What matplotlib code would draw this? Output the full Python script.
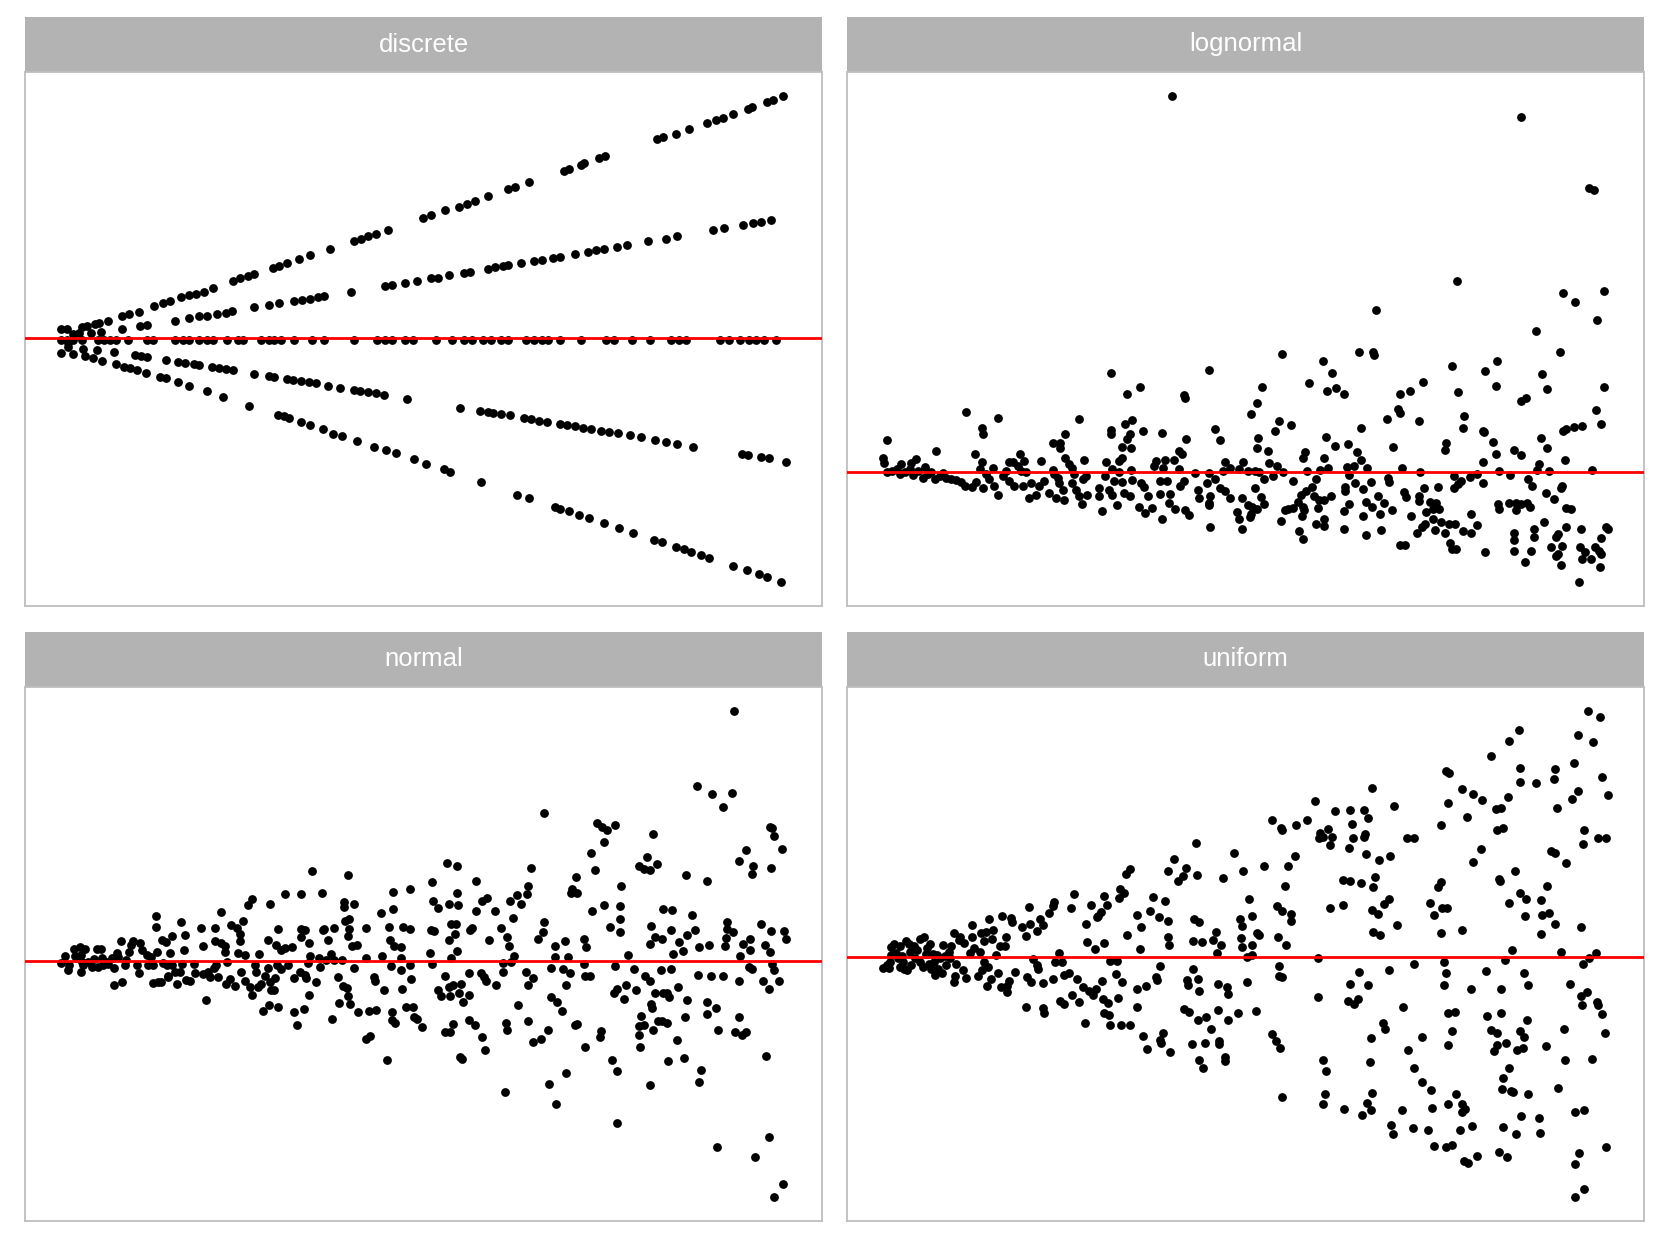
import matplotlib
matplotlib.use("Agg")
import matplotlib.pyplot as plt

# ---------------- data (fitted, residual) ----------------
discrete_up2 = [(7.8,2.5),(9.0,2.5),(11.8,3.0),(12.8,3.2),(14.3,3.7),(15.2,3.9),(16.8,4.6),(19.5,5.9),(21.0,6.2),
    (22.8,6.9),(25.8,8.4),(27.5,9.2),(28.8,9.7),(31.0,10.7),(32.5,11.2),(34.0,11.7),(35.5,12.2),(37.2,13.2),(41.2,14.9),
    (42.5,15.7),(44.0,16.2),(45.2,16.7),(48.8,18.4),(50.0,18.9),(51.5,19.6),(54.0,20.7),(56.0,21.7),(60.0,23.5),(64.5,25.4),
    (66.0,26.0),(67.2,26.7),(68.8,27.4),(71.2,28.5),(78.0,31.5),(79.5,32.2),(82.2,33.5),(85.0,34.5),(86.5,35.2),(88.0,35.9),
    (90.5,37.2),(94.5,39.2),(95.8,39.7),(98.5,40.9),(105.2,43.9),(106.2,44.4),(108.5,45.5),(109.2,45.9),(112.0,47.2),
    (113.3,47.7),(123.3,52.2),(124.5,52.7),(127.0,53.7),(129.5,54.9),(133.0,56.4),(134.8,57.2),(136.2,57.9),(138.0,58.9),
    (141.0,60.2),(141.8,60.7),(144.7,62.0),(145.8,62.5),(147.8,63.5)]
discrete_up1 = [(10.0,1.1),(11.2,1.4),(13.5,1.4),(15.5,1.7),(19.5,2.5),(23.0,3.2),(24.5,3.5),(29.8,4.5),(32.5,5.2),
    (34.5,5.7),(36.0,5.9),(38.0,6.2),(39.8,6.7),(41.0,7.0),(45.2,8.1),(48.0,8.7),(50.0,9.1),(53.0,9.7),(54.5,10.0),
    (56.0,10.3),(57.5,10.7),(58.8,11.0),(64.0,12.1),(70.5,13.7),(72.0,14.0),(74.5,14.5),(76.8,15.1),(79.5,15.7),(80.8,15.9),
    (83.0,16.5),(86.0,17.2),(87.0,17.4),(90.5,18.2),(92.0,18.7),(93.5,18.9),(94.5,19.1),(97.0,19.7),(99.5,20.2),(101.0,20.5),
    (103.2,21.1),(104.5,21.4),(107.5,22.1),(110.0,22.7),(111.5,23.0),(113.0,23.3),(115.5,23.9),(117.5,24.4),(121.5,25.4),
    (125.0,26.1),(127.3,26.7),(134.2,28.4),(136.3,28.9),(140.0,29.7),(142.0,30.1),(143.5,30.5),(145.5,30.9)]
discrete_zero = [(7.8,-0.5),(9.0,-0.5),(10.0,-0.5),(11.8,-0.5),(15.0,-0.5),(16.0,-0.5),(17.2,-0.5),(18.5,-0.5),(20.8,-0.5),
    (24.5,-0.5),(25.5,-0.5),(29.8,-0.5),(31.5,-0.5),(32.5,-0.5),(34.5,-0.5),(36.0,-0.5),(37.2,-0.5),(40.0,-0.5),(42.0,-0.5),
    (43.0,-0.5),(46.5,-0.5),(48.0,-0.5),(49.0,-0.5),(50.5,-0.5),(53.0,-0.5),(56.5,-0.5),(58.8,-0.5),(64.5,-0.5),(69.0,-0.5),
    (70.5,-0.5),(72.0,-0.5),(74.5,-0.5),(76.0,-0.5),(80.5,-0.5),(83.5,-0.5),(86.0,-0.5),(87.5,-0.5),(89.5,-0.5),(91.2,-0.5),
    (93.0,-0.5),(94.5,-0.5),(98.0,-0.5),(99.5,-0.5),(101.0,-0.5),(102.2,-0.5),(104.5,-0.5),(108.5,-0.5),(113.5,-0.5),
    (115.0,-0.5),(118.5,-0.5),(122.0,-0.5),(126.0,-0.5),(127.5,-0.5),(129.0,-0.5),(135.5,-0.5),(137.2,-0.5),(139.5,-0.5),
    (141.2,-0.5),(142.5,-0.5),(144.0,-0.5),(146.5,-0.5)]
discrete_down1 = [(9.2,-1.3),(9.2,-2.3),(12.0,-2.8),(14.8,-3.1),(18.0,-3.6),(22.2,-4.5),(23.2,-4.8),(24.5,-5.1),(28.2,-5.8),
    (30.5,-6.3),(31.8,-6.5),(33.5,-6.9),(34.5,-7.1),(37.0,-7.6),(38.3,-7.9),(39.8,-8.2),(41.2,-8.5),(45.2,-9.5),(48.0,-10.0),
    (49.0,-10.3),(51.5,-10.8),(52.8,-11.1),(54.2,-11.3),(55.8,-11.6),(57.2,-11.9),(59.5,-12.6),(61.8,-13.1),(64.5,-13.6),
    (65.8,-13.8),(67.3,-14.1),(68.8,-14.5),(70.3,-14.9),(74.8,-16.0),(85.2,-18.3),(89.0,-19.2),(90.5,-19.5),(91.5,-19.7),
    (93.0,-20.0),(94.8,-20.3),(97.5,-21.1),(98.8,-21.3),(100.5,-21.8),(102.0,-22.1),(104.5,-22.6),(105.8,-22.8),(107.5,-23.1),
    (109.0,-23.5),(110.5,-23.8),(112.5,-24.3),(114.0,-24.6),(115.8,-25.0),(118.0,-25.5),(120.3,-26.0),(123.0,-26.8),
    (125.0,-27.3),(127.3,-27.8),(130.3,-28.5),(139.8,-30.5),(141.0,-30.8),(143.5,-31.3),(145.0,-31.6),(148.3,-32.5)]
discrete_down2 = [(7.8,-4.0),(10.0,-4.3),(12.5,-4.8),(14.0,-5.3),(15.8,-5.9),(18.5,-6.8),(20.0,-7.5),(21.2,-7.9),(22.5,-8.5),
    (24.2,-9.1),(27.0,-10.1),(28.2,-10.6),(30.5,-11.5),(32.5,-12.5),(36.0,-14.0),(39.2,-15.5),(44.3,-17.8),(49.8,-20.1),
    (51.0,-20.6),(52.0,-21.0),(54.2,-22.0),(56.0,-22.8),(58.5,-24.0),(60.5,-25.1),(62.2,-25.8),(65.2,-27.1),(68.5,-28.5),
    (70.8,-29.5),(72.7,-30.3),(76.2,-31.8),(78.5,-33.0),(82.0,-34.5),(83.2,-35.3),(89.2,-37.8),(96.2,-41.1),(98.5,-42.1),
    (103.5,-44.3),(104.5,-44.8),(106.3,-45.5),(108.2,-46.5),(110.2,-47.3),(113.0,-48.5),(116.0,-49.8),(118.7,-51.1),
    (122.8,-53.0),(124.3,-53.6),(127.0,-54.8),(128.5,-55.5),(130.0,-56.3),(131.8,-57.1),(133.5,-57.8),(138.0,-59.8),
    (140.8,-61.0),(143.2,-62.0),(144.7,-62.8),(147.3,-64.0)]

lognormal_pts = [(98.0,109.7),(79.5,28.9),(109.0,30.0),(84.3,23.0),(88.4,25.0),(101.5,22.5),(102.0,21.8),(35.8,17.7),
    (45.5,15.9),(70.0,15.6),(85.8,15.2),(83.8,14.0),(40.6,12.8),(41.0,11.3),(79.6,12.5),(79.6,11.3),(85.2,11.2),(89.3,12.2),
    (95.0,11.5),(111.0,12.6),(112.5,9.5),(102.2,9.7),(65.6,11.1),(12.2,9.3),(27.0,6.1),(62.0,8.5),(64.3,8.5),(64.3,7.1),
    (84.3,9.8),(83.0,7.3),(85.5,7.1),(100.0,6.3),(101.0,5.5),(38.5,5.3),(52.1,5.4),(65.6,4.3),(71.5,3.6),(78.0,2.9),(83.0,4.3),
    (82.0,3.2),(93.0,3.2),(96.0,3.6),(98.7,3.7),(114.0,3.1),(119.3,3.0),(58.5,3.2),(67.0,2.5),(11.0,4.3),(11.3,2.7),(21.0,4.0),
    (19.5,2.8),(16.5,2.5),(23.5,1.5),(40.7,2.9),(48.8,3.0),(50.0,3.1),(53.5,3.4),(44.2,1.3),(92.5,2.0),(95.3,1.2),(115.5,1.2),
    (113.3,0.5),(105.0,-0.1),(109.2,-0.2),(100.0,1.0),(85.5,0.7),(80.0,1.0),(62.0,0.7),(68.0,1.4),(62.5,-0.5),
    (12.0,0.0),(13.5,0.5),(15.0,1.0),(16.0,-0.5),(17.5,0.2),(19.0,1.0),(20.0,-0.8),(21.5,0.5),(23.0,-1.5),(24.5,-0.5),
    (25.5,0.0),(26.5,-2.0),(28.0,-1.0),(29.0,-0.2),(30.0,-1.5),(31.5,-2.0),(33.0,-2.2),(34.5,-2.8),(35.5,-4.0),(37.8,-4.3),
    (39.0,-2.7),(41.0,-4.5),(40.0,1.0),(42.0,-0.5),(43.0,-2.0),(44.5,-4.0),(45.5,-6.5),(47.0,-1.0),(48.0,0.5),(49.0,-2.5),
    (50.5,-4.0),(51.5,2.0),(52.5,0.5),(54.0,0.0),(53.0,-4.0),(55.0,-7.5),(55.5,-3.0),(57.0,-6.5),(58.0,-4.0),(59.5,-2.5),
    (61.0,-6.0),(63.0,-7.5),(64.0,-3.0),(65.5,-8.0),(65.2,-5.2),(63.5,-1.5),(68.5,-0.5),(68.0,-3.0),(69.0,-5.0),(70.0,-7.0),
    (70.8,-9.2),(71.2,-2.0),(72.5,-6.5),(72.0,-1.2),(76.0,-4.5),(76.0,-7.0),(77.0,-11.3),(77.8,-1.0),(79.0,-5.0),(80.0,-6.5),
    (80.5,-2.5),(81.5,-9.5),(82.8,-2.7),(83.5,-6.0),(85.2,-6.8),(86.0,-2.3),(88.0,-10.0),(88.7,-3.0),(89.5,-4.3),(89.7,-11.8),
    (90.8,-7.0),(91.8,-10.5),(94.5,-2.6),(94.5,-6.2),(95.0,-13.7),(96.5,-2.5),(97.5,-6.3),(97.0,-8.8),(99.0,-10.8),
    (100.5,-4.0),(101.5,-2.5),(102.0,-11.0),(103.0,-12.5),(105.8,-5.2),(106.0,-7.5),(108.5,-3.0),(109.0,-8.8),(109.2,-9.5),
    (109.5,-15.8),(111.0,-2.0),(112.5,-4.5),(114.0,-5.5),(115.5,-7.5),(117.5,-11.5),(118.0,-13.5),(119.0,-16.5),(119.0,-7.5),
    (109.3,-6.8),(82.0,0.0),(118.0,1.0),
    (203.0,103.6),(223.5,82.8),(225.0,82.3),(183.7,55.7),(215.8,52.3),(228.2,53.0),(219.2,49.7),(159.3,47.4),(226.0,44.4),
    (207.7,41.2),(131.0,34.6),(154.4,35.0),(158.6,35.2),(158.8,34.3),(214.9,35.1),(195.8,32.4),(143.5,32.5),(182.2,31.0),
    (146.2,29.1),(192.2,29.7),(209.4,28.7),(125.1,24.9),(139.3,26.0),(173.7,26.4),(228.2,25.0),(211.0,24.2),(144.5,23.6),
    (147.3,24.5),(149.9,23.0),(166.6,23.0),(169.6,23.7),(184.2,23.5),(195.4,25.2),(203.0,20.8),(204.5,21.8),(123.5,20.3),
    (121.8,17.0),(166.7,17.2),(166.0,18.6),(185.9,16.4),(225.7,18.2),(162.8,15.5),(172.2,15.0),(130.2,15.0),(128.9,12.0),
    (133.9,13.8),(154.8,12.8),(185.6,12.9),(227.3,14.0),(215.8,12.0),(216.5,12.7),(219.0,13.3),(221.5,13.6),(191.5,12.2),
    (192.0,11.9),(124.0,10.1),(144.3,10.2),(209.0,9.9),(194.5,9.0),(180.5,8.5),(123.7,7.1),(147.2,7.8),(150.9,8.2),
    (164.5,7.4),(180.3,6.4),(127.0,6.1),(138.0,6.0),(153.7,6.0),(211.0,7.2),(201.1,6.5),(203.0,5.0),(195.5,5.4),(137.3,4.2),
    (143.7,4.3),(154.9,3.6),(191.7,3.0),(127.3,2.7),(129.6,2.0),(208.6,2.5),(216.4,3.6),(152.8,1.9),(150.8,1.5),(145.0,1.2),
    (142.5,0.7),(138.6,0.5),(156.8,1.2),(167.2,1.4),(172.7,0.0),(196.5,0.5),(208.0,0.7),(211.5,0.3),(224.4,0.7),(121.0,0.3),
    (123.0,0.3),(124.3,0.0),(131.3,0.0),(128.5,-1.0),(125.7,-1.8),(134.3,-2.5),(141.2,-2.0),(151.2,-0.8),(153.2,-3.2),
    (157.8,-2.7),(163.0,-1.5),(163.2,-2.7),(182.8,-1.1),(185.0,-2.5),(184.0,-3.3),(183.0,-4.6),(187.8,-1.3),(189.7,-0.5),
    (191.5,-3.0),(199.8,-0.8),(205.1,-2.0),(206.4,-4.0),(215.5,-4.0),(215.0,-4.6),(123.0,-4.5),(140.2,-4.3),(138.3,-5.5),
    (136.8,-6.5),(150.2,-4.3),(150.0,-5.5),(155.5,-4.8),(178.0,-4.2),(174.0,-4.7),(167.8,-5.7),(168.5,-7.3),(160.0,-6.8),
    (172.3,-6.8),(172.5,-8.3),(210.5,-6.0),(213.0,-7.7),(124.8,-7.3),(125.8,-9.2),(121.0,-9.5),(122.0,-10.0),(123.6,-10.7),
    (121.7,-12.0),(121.5,-13.0),(136.0,-8.5),(137.5,-10.0),(137.7,-11.0),(140.8,-7.0),(142.2,-8.0),(143.7,-8.2),(142.0,-10.3),
    (145.7,-7.0),(151.3,-9.2),(149.8,-11.3),(156.5,-8.7),(158.3,-10.2),(160.6,-12.0),(161.7,-9.0),(164.1,-11.0),(175.7,-8.7),
    (177.4,-9.0),(174.6,-11.5),(176.5,-10.7),(178.5,-10.7),(196.0,-9.2),(196.5,-10.8),(199.5,-8.8),(201.7,-8.8),(203.0,-9.2),
    (204.8,-8.8),(205.8,-10.0),(201.5,-11.0),(216.7,-10.3),(218.2,-10.8),(130.7,-14.1),(132.0,-11.0),(133.0,-10.7),
    (134.3,-10.3),(137.1,-12.7),(143.7,-13.5),(141.3,-15.2),(143.7,-15.5),(149.7,-16.6),(155.6,-12.8),(160.8,-16.7),
    (156.5,-18.3),(136.3,-17.0),(137.3,-19.5),(170.0,-12.8),(174.1,-15.2),(173.4,-16.0),(171.7,-17.8),(176.7,-13.5),
    (179.1,-14.5),(177.3,-16.8),(180.3,-17.8),(181.4,-15.2),(183.3,-15.2),(185.5,-17.0),(188.1,-12.0),(189.7,-15.3),
    (188.1,-17.8),(181.6,-20.5),(182.4,-22.3),(183.6,-22.3),(166.5,-21.3),(168.0,-21.3),(192.1,-23.2),(201.0,-17.8),
    (201.1,-19.7),(201.0,-23.0),(204.3,-26.0),(206.9,-16.6),(207.0,-18.8),(206.0,-22.8),(210.1,-14.5),(216.7,-15.8),
    (214.3,-18.0),(213.7,-18.8),(215.5,-21.5),(212.2,-21.7),(214.3,-23.8),(213.5,-24.3),(215.0,-27.0),(221.1,-16.5),
    (220.8,-21.8),(222.2,-23.2),(221.5,-25.2),(224.0,-25.2),(225.4,-21.8),(226.5,-23.0),(227.3,-23.8),(226.8,-27.6),
    (227.3,-19.2),(228.8,-15.8),(229.2,-16.6),(220.5,-31.9)]

normal_pts = [(12.8,1.5),(11.8,-0.6),(13.8,-2.8),(14.0,-1.3),(15.5,3.5),(15.8,1.5),(16.5,0.7),(17.5,3.9),(17.8,1.7),
    (18.0,-0.3),(17.8,-3.3),(19.0,3.5),(18.5,-1.3),(20.0,-0.3),(21.0,-1.8),(21.8,0.4),(22.5,3.5),(23.0,-1.8),(23.8,3.5),
    (24.0,0.7),(24.5,-1.3),(25.5,-0.3),(26.0,-1.0),(27.0,0.7),(27.8,-2.1),(27.8,-7.1),(28.5,2.2),(29.0,1.2),(29.8,5.9),
    (30.0,-6.3),(31.0,-1.3),(31.2,0.2),(32.2,2.5),(32.8,4.7),(33.5,5.7),(34.5,-1.3),(35.2,-3.5),(35.5,5.2),(36.0,3.2),
    (37.5,1.7),(38.0,-1.3),(38.8,1.2),(39.3,-1.3),(39.5,-6.5),(40.2,13.0),(40.2,10.0),(40.7,2.5),(41.0,-6.3),(41.8,-6.3),
    (42.0,6.2),(42.5,-0.5),(43.2,5.4),(43.5,-1.1),(43.8,-4.3),(44.0,-4.8),(44.5,2.2),(45.2,7.2),(45.0,-1.1),(46.0,-3.1),
    (46.5,-6.8),(47.5,-3.1),(47.8,11.4),(48.0,-0.8),(48.8,3.2),(49.0,7.5),(49.2,-5.5),(50.5,-6.0),(51.8,-0.8),(52.0,-3.5),
    (54.0,9.7),(54.5,4.2),(54.5,-3.8),(55.3,-11.5),(56.0,-3.3),(56.5,-4.8),(57.8,-2.1),(58.0,9.7),(58.0,5.7),(58.5,-1.3),
    (59.0,-4.8),(59.8,14.2),(60.0,5.2),(61.0,4.2),(61.2,2.7),(61.3,-6.8),(61.8,-0.3),(62.5,-5.3),(63.0,10.5),(64.0,-7.3),
    (64.8,9.7),(65.0,2.2),(65.5,7.7),(65.7,5.9),(65.8,-3.3),(66.5,11.5),(67.0,1.7),(67.1,-5.8),(68.0,16.2),(68.5,-7.5),
    (69.3,18.0),(69.3,-10.0),(70.0,-1.3),(70.5,-3.3),(71.0,-7.5),(71.2,1.9),(72.0,-6.8),(72.6,-14.6),(73.0,-4.3),(74.0,6.2),
    (74.0,-2.1),(74.2,-12.8),(74.5,16.5),(74.5,-6.1),(75.0,-8.5),(75.8,-8.5),(76.2,-5.1),(76.5,4.7),(76.8,-1.3),(77.0,9.3),
    (77.0,-13.5),(77.8,3.2),(78.0,-2.5),(79.0,19.5),(79.0,3.7),(80.0,-1.3),(81.2,3.9),(81.8,-5.1),(81.8,-15.0),(82.8,-18.8),
    (83.5,-3.3),(83.8,19.5),(84.0,9.2),(84.0,6.9),(84.8,-14.1),(85.2,-4.1),(85.2,9.0),(85.5,-5.1),(86.0,-0.6),(86.2,5.2),
    (86.2,-9.8),(86.5,1.4),(87.3,26.3),(88.5,-6.3),(89.3,0.9),(89.8,-1.8),(90.3,19.9),(90.5,8.9),(91.0,9.2),(91.5,0.2),
    (92.2,6.2),(93.0,1.9),(93.2,-17.0),(94.0,9.7),(94.0,0.2),(95.2,-4.8),(95.3,-12.3),(96.2,0.2),(96.5,-7.3),(97.0,17.2),
    (97.0,15.7),(97.2,11.7),(97.8,-7.8),(98.0,25.0),(98.0,-10.1),(98.2,7.2),(98.5,12.2),(98.5,9.2),(98.8,-12.5),(99.2,4.2),
    (99.8,16.7),(100.0,-2.0),(100.8,4.5),(101.0,-15.0),(103.5,9.7),(103.5,0.7),(103.5,-22.8),(104.5,-14.6),(104.8,-22.0),
    (106.0,-4.8),(106.2,-5.8),(106.5,-14.3),(108.0,13.9),(108.2,1.4),(108.8,-8.5),(109.8,-29.0),(110.5,9.9),(110.8,6.2),
    (111.0,-1.5),(111.2,-14.8),(111.2,-17.3),(111.5,20.2),(111.5,15.0),(112.0,4.2),(112.2,-18.1),(114.0,3.9),(114.0,0.7),
    (114.0,-2.8),(114.2,-8.3),(114.5,9.9),(115.5,-13.5),(116.8,20.9),(116.8,9.4),(116.8,-1.3),(117.0,-5.3),(117.5,-13.5),
    (117.8,-16.3),(118.8,-17.0),
    (214.3,72.7),(203.2,51.0),(207.5,48.6),(213.5,49.0),(210.8,44.7),(157.0,43.0),(173.0,40.2),(174.5,39.0),(176.0,38.0),
    (178.5,39.7),(190.0,37.0),(175.0,34.7),(225.0,38.9),(225.8,38.7),(226.2,36.4),(228.8,32.7),(217.7,32.4),(171.2,31.5),
    (128.0,28.5),(131.0,27.5),(185.5,27.5),(188.0,30.2),(189.0,26.5),(187.2,26.7),(191.2,28.2),(153.0,27.0),(172.4,26.5),
    (215.8,29.0),(220.0,27.5),(219.7,25.2),(225.5,27.0),(199.7,25.0),(123.3,22.9),(136.5,23.2),(206.0,23.2),(166.6,24.3),
    (152.2,21.7),(180.2,21.7),(165.5,21.0),(165.3,19.7),(167.0,19.7),(149.0,19.3),(151.8,19.4),(131.0,19.9),(123.8,17.5),
    (125.2,15.5),(128.4,16.7),(131.2,16.2),(140.0,18.3),(138.5,17.5),(146.8,17.4),(150.0,16.6),(175.0,16.2),(180.0,16.0),
    (136.6,14.4),(142.2,14.4),(192.8,15.0),(195.5,14.7),(171.4,14.4),(201.5,13.5),(147.7,12.4),(180.0,12.2),(157.0,11.4),
    (222.3,10.7),(212.0,11.2),(189.2,10.2),(177.0,9.8),(129.2,10.7),(130.7,10.7),(135.5,9.5),(134.8,9.0),(144.2,9.5),
    (123.0,9.0),(124.0,8.7),(180.0,8.3),(156.8,8.4),(202.6,9.0),(195.3,8.9),(212.0,9.2),(225.5,8.7),(229.2,8.6),(130.2,7.9),
    (145.8,6.9),(190.5,6.9),(192.5,6.5),(169.0,6.3),(155.2,6.4),(163.5,5.8),(229.8,6.5),(219.0,6.5),(211.7,6.6),(213.9,8.4),
    (128.6,6.0),(140.5,6.0),(197.7,5.6),(200.2,7.6),(188.8,4.9),(146.5,4.4),(160.3,4.2),(169.7,4.0),(211.5,4.2),(206.8,4.7),
    (203.8,3.9),(217.0,5.0),(223.5,4.7),(130.8,2.9),(122.8,2.4),(199.0,2.9),(195.8,1.9),(219.0,3.1),(225.2,2.5),(182.2,1.7),
    (148.0,1.4),(160.5,1.2),(164.2,1.2),(129.2,0.9),(216.0,1.4),(147.0,-0.3),(144.8,-0.5),(123.5,-0.8),(169.2,-0.8),
    (225.8,-0.8),(178.5,-1.5),(159.2,-2.1),(162.8,-2.5),(184.2,-2.3),(192.2,-2.8),(195.2,-2.4),(218.8,-1.8),(219.7,-2.5),
    (226.2,-2.8),(144.8,-3.1),(151.5,-3.1),(164.8,-3.6),(134.5,-3.5),(138.0,-3.6),(127.3,-4.3),(169.5,-4.3),(171.0,-4.3),
    (187.5,-4.3),(203.5,-4.1),(207.3,-4.3),(211.0,-4.5),(139.0,-4.6),(153.8,-5.1),(139.5,-5.8),(189.0,-5.8),(215.8,-5.8),
    (223.0,-6.0),(227.8,-5.8),(132.0,-6.8),(129.7,-7.1),(128.5,-7.6),(142.5,-7.1),(152.2,-7.1),(163.8,-7.1),(181.8,-7.1),
    (179.0,-8.1),(197.5,-7.5),(224.8,-8.3),(125.3,-8.6),(126.2,-10.1),(128.7,-10.3),(131.5,-9.3),(134.5,-10.0),(178.0,-9.3),
    (184.8,-8.5),(181.2,-11.1),(190.5,-9.3),(193.0,-9.3),(194.0,-9.3),(194.8,-10.6),(200.2,-11.3),(132.8,-12.1),(159.2,-10.5),
    (161.0,-12.0),(206.0,-12.1),(189.3,-12.5),(189.5,-13.8),(208.7,-13.8),(206.2,-15.6),(149.2,-13.0),(162.5,-14.7),
    (186.3,-16.0),(215.8,-16.3),(199.4,-16.3),(134.5,-17.3),(136.3,-18.6),(145.5,-18.0),(145.8,-20.2),(152.2,-17.5),
    (120.3,-19.3),(127.2,-20.8),(128.7,-20.8),(129.7,-18.3),(166.5,-18.8),(167.0,-18.3),(185.7,-19.0),(187.2,-18.6),
    (191.3,-17.5),(192.5,-17.5),(194.0,-18.0),(190.0,-20.1),(209.5,-20.1),(214.5,-20.6),(216.5,-21.6),(217.8,-20.8),
    (138.4,-22.2),(139.3,-25.9),(153.8,-23.6),(156.3,-22.8),(158.3,-20.2),(169.5,-25.1),(173.8,-22.2),(174.3,-20.5),
    (185.6,-21.7),(186.0,-25.0),(197.0,-23.1),(131.8,-28.0),(132.5,-28.6),(177.5,-28.9),(179.0,-32.0),(194.5,-29.1),
    (199.3,-28.4),(204.3,-31.8),(203.8,-35.4),(223.8,-27.8),(163.7,-32.6),(158.5,-35.9),(145.2,-38.1),(189.0,-36.3),
    (160.8,-41.8),(179.1,-47.3),(209.2,-54.3),(224.7,-51.3),(220.6,-57.0),(228.9,-65.0),(226.3,-68.7)]

uniform_pts = [(10.8,-3.2),(11.8,-2.4),(12.5,-3.2),(12.8,-1.4),(13.0,2.8),(13.2,0.6),(14.0,3.9),(14.5,1.1),(15.2,-0.4),
    (15.8,-2.9),(16.0,3.1),(16.5,0.4),(16.8,-1.4),(17.2,-3.6),(17.8,4.6),(18.0,-3.9),(18.5,3.8),(19.0,1.6),(19.2,-2.4),
    (20.0,3.1),(20.5,-0.4),(21.0,2.1),(21.8,5.4),(22.0,-1.4),(22.8,-2.9),(23.2,5.9),(23.6,0.9),(24.0,2.6),(24.5,-1.9),
    (24.8,3.9),(25.2,-3.4),(25.8,0.9),(26.2,-1.4),(26.5,-5.1),(27.0,0.6),(27.2,-3.4),(28.0,-0.4),(28.5,-4.6),(28.8,3.6),
    (29.5,0.4),(29.8,-2.4),(30.5,1.6),(31.0,-0.4),(31.2,3.1),(32.0,7.1),(32.0,-7.4),(32.5,-5.4),(32.8,-2.1),(33.5,5.1),
    (34.0,5.8),(34.8,-3.9),(35.0,4.1),(35.8,-6.2),(36.8,1.1),(37.5,9.4),(37.5,5.8),(38.0,2.6),(39.2,-5.4),(39.8,1.4),
    (40.2,6.9),(40.5,-3.9),(41.0,4.6),(41.0,-1.4),(41.8,7.4),(42.2,-8.4),(42.5,-2.9),(42.8,11.1),(43.2,-6.4),(43.6,5.4),
    (44.0,7.9),(44.8,0.6),(45.5,-4.6),(46.0,3.1),(46.2,-8.6),(46.5,12.0),(47.5,3.1),(47.8,5.8),(48.0,-8.4),(48.2,-10.2),
    (48.8,-6.9),(49.2,11.4),(49.5,10.1),(50.5,-4.2),(52.5,8.8),(53.8,6.1),(54.0,-5.9),(53.7,-14.4),(54.8,14.6),(55.0,9.6),
    (55.3,-7.4),(56.0,-0.6),(57.0,7.6),(57.2,-2.4),(57.5,-3.4),(58.0,11.1),(58.8,9.3),(59.0,-7.6),(58.8,-14.7),(59.2,-16.4),
    (60.7,12.8),(62.0,14.8),(62.2,16.1),(62.0,-6.4),(62.5,-1.4),(63.8,1.1),(64.0,-12.9),(64.5,-1.4),(65.2,-13.7),(65.2,-5.2),
    (66.8,-4.7),(67.4,14.3),(67.6,-11.1),(68.2,18.3),(69.3,-6.4),(69.8,-13.1),(71.0,-8.6),(71.7,-19.1),(72.0,9.6),(72.2,4.3),
    (72.7,-9.9),(73.5,15.1),(74.0,-10.9),(74.5,2.4),(74.8,-9.4),(75.2,11.6),(75.5,11.9),(76.5,13.1),(76.8,-6.9),(77.0,-12.2),
    (77.2,17.9),(77.2,4.1),(77.2,-16.2),(78.2,15.3),(78.5,-13.4),(78.8,-16.9),(79.0,-1.1),(79.0,-19.9),(80.8,-4.9),
    (81.2,-1.1),(81.5,-11.9),(81.8,17.3),(82.0,19.8),(82.5,-19.9),(82.8,-7.4),(83.2,18.6),(84.0,24.3),(84.2,6.4),(85.0,25.8),
    (85.0,-19.9),(87.2,-14.4),(87.3,12.4),(87.3,-9.4),(88.0,2.4),(88.5,8.8),(89.0,-23.1),(90.0,-8.4),(90.2,-26.7),(91.2,13.4),
    (92.0,17.6),(92.8,-5.9),(93.3,-6.6),(94.0,11.6),(94.2,-2.6),(94.3,-24.1),(95.0,-22.1),(94.5,-24.9),(95.8,16.4),(96.5,10.4),
    (96.5,5.8),(97.0,3.6),(97.2,-27.7),(98.5,28.6),(99.5,22.3),(96.6,25.0),(101.0,23.6),(102.0,25.9),(101.5,-15.2),
    (102.2,-6.6),(102.5,-8.2),(103.0,-15.9),(103.8,-25.4),(104.0,4.8),(104.2,-3.4),(104.5,11.1),(105.0,33.1),(105.3,23.8),
    (105.5,-6.4),(105.5,-18.2),(106.0,10.3),(106.0,-9.9),(106.0,-29.9),(106.8,4.4),(107.2,-32.2),(107.8,-24.9),(108.0,-17.4),
    (109.5,-20.9),(110.0,4.9),(111.0,7.3),(111.2,1.3),(111.5,-7.7),(111.5,-15.4),(111.8,-24.4),(112.0,-25.4),(112.5,3.6),
    (113.2,23.1),(113.8,-29.2),(113.8,-30.2),(114.3,-8.7),(114.5,-10.7),(114.5,-18.2),(116.3,30.3),(117.5,-16.4),(118.2,11.1),
    (118.5,5.6),(118.8,9.1),(118.8,2.8),(119.2,25.1),
    (223.0,71.6),(226.7,69.9),(220.0,64.6),(224.5,62.6),(202.2,66.2),(199.3,62.9),(193.7,58.7),(218.7,56.4),(213.2,54.8),
    (202.7,55.1),(180.2,54.1),(181.2,53.6),(227.3,52.4),(202.5,51.1),(207.5,50.8),(212.7,51.8),(220.0,48.3),(229.0,47.3),
    (218.3,46.0),(185.0,48.9),(188.5,47.4),(191.1,45.9),(199.0,46.6),(180.8,45.0),(158.0,49.3),(140.8,45.5),(164.6,43.9),
    (146.9,42.5),(151.3,42.8),(155.6,42.7),(195.2,43.2),(196.7,43.3),(213.7,43.3),(186.5,40.8),(156.7,40.4),(128.0,39.9),
    (135.2,38.4),(138.5,40.0),(130.6,37.6),(130.8,37.1),(144.8,37.2),(142.2,36.1),(142.0,34.8),(143.2,35.1),(145.8,35.1),
    (152.0,38.8),(152.2,34.6),(155.8,35.8),(155.5,35.1),(178.7,38.4),(195.5,36.9),(197.3,37.5),(221.7,37.1),(168.5,34.6),
    (170.7,34.6),(226.0,34.8),(228.5,34.6),(221.5,32.8),(145.4,32.7),(151.0,31.7),(156.2,30.1),(160.0,28.3),(163.3,29.3),
    (134.8,29.4),(125.5,26.6),(132.8,26.6),(188.5,27.6),(190.8,31.6),(212.0,30.9),(213.0,30.4),(216.3,27.3),(201.2,25.0),
    (178.8,21.9),(178.0,20.4),(196.3,22.7),(196.5,22.1),(149.2,22.4),(151.4,22.3),(154.7,21.5),(158.8,23.2),(158.2,20.3),
    (131.8,20.7),(210.8,20.7),(202.6,18.6),(204.4,16.9),(208.8,16.6),(199.2,15.9),(121.0,16.9),(163.2,16.8),(161.5,15.5),
    (175.5,15.7),(179.0,14.3),(180.5,14.4),(129.4,14.9),(130.8,13.4),(133.6,12.6),(133.6,10.4),(122.0,12.0),(149.2,15.1),
    (145.3,14.2),(158.0,13.8),(159.7,12.6),(176.7,12.3),(204.2,11.9),(209.2,12.4),(211.2,12.9),(213.0,9.6),(165.5,9.3),
    (185.1,7.8),(178.8,7.1),(158.3,7.3),(160.5,6.4),(220.8,8.8),(208.9,6.8),(123.3,7.0),(124.0,6.4),(129.8,5.9),(132.0,3.6),
    (122.0,3.6),(121.8,0.6),(120.5,0.0),(141.8,-0.4),(200.3,2.1),(214.8,1.4),(225.4,1.1),(223.3,-0.2),(198.0,-0.8),
    (170.5,-1.9),(179.6,-1.5),(221.4,-2.0),(129.9,-2.7),(163.2,-3.7),(192.3,-4.0),(180.2,-4.6),(154.0,-4.4),(203.8,-4.7),
    (129.9,-5.5),(131.0,-5.8),(120.4,-7.2),(151.5,-7.8),(156.7,-8.2),(179.7,-8.0),(205.1,-8.0),(217.6,-7.7),(187.9,-9.4),
    (196.8,-9.2),(220.8,-11.2),(222.7,-10.2),(141.8,-11.7),(150.8,-12.7),(152.7,-13.6),(153.8,-12.2),(167.3,-14.6),
    (226.0,-13.9),(225.8,-13.2),(221.1,-13.9),(123.1,-15.8),(181.0,-16.4),(183.0,-15.9),(196.8,-16.2),(227.2,-16.6),
    (192.7,-17.2),(204.8,-18.2),(161.3,-19.2),(162.0,-20.9),(193.7,-21.1),(195.6,-22.0),(202.6,-21.5),(215.9,-20.9),
    (182.1,-21.6),(228.3,-22.0),(128.0,-22.4),(129.1,-24.3),(130.3,-26.5),(173.0,-23.2),(157.8,-23.7),(203.8,-23.4),
    (180.8,-25.7),(195.6,-25.6),(198.4,-24.9),(194.8,-27.4),(203.6,-26.4),(201.8,-27.1),(210.3,-25.9),(168.8,-27.2),
    (143.1,-30.1),(144.2,-33.2),(157.3,-30.7),(216.0,-30.0),(224.2,-29.7),(170.6,-32.3),(199.2,-32.4),(197.5,-35.3),
    (173.0,-36.4),(175.8,-38.7),(197.0,-38.4),(200.0,-38.9),(200.6,-39.2),(205.1,-39.9),(214.1,-38.1),(130.9,-40.7),
    (143.7,-40.0),(143.3,-42.7),(158.0,-39.7),(156.6,-42.6),(157.8,-44.6),(154.9,-46.0),(149.5,-44.2),(166.9,-44.6),
    (176.0,-43.9),(181.0,-42.7),(183.3,-40.0),(185.0,-42.7),(186.0,-44.2),(185.0,-45.2),(203.0,-46.4),(208.3,-47.0),
    (219.1,-45.2),(221.7,-44.4),(163.6,-49.0),(164.2,-51.4),(170.2,-49.9),(175.0,-50.3),(184.5,-50.5),(188.1,-49.2),
    (197.3,-49.4),(201.5,-51.6),(208.7,-51.2),(176.8,-55.1),(180.3,-55.4),(182.1,-54.6),(228.6,-55.4),(185.7,-59.4),
    (186.8,-59.9),(189.5,-57.8),(196.3,-56.7),(198.6,-58.3),(220.3,-57.1),(219.0,-60.2),(221.9,-67.6),(219.2,-69.8)]

facet_titles = ["discrete", "lognormal", "normal", "uniform"]
panel_data = {
    "discrete": discrete_up2 + discrete_up1 + discrete_zero + discrete_down1 + discrete_down2,
    "lognormal": lognormal_pts,
    "normal": normal_pts,
    "uniform": uniform_pts,
}

# ---------------- figure ----------------
W, H = 1661, 1246
fig = plt.figure(figsize=(W / 100, H / 100), dpi=100)
fig.patch.set_facecolor("white")

STRIP = "#B3B3B3"
BORDER = "#BEBEBE"
col_x = [25, 847]
pw = 797
row_top = [17, 632]
sh = 55
ph = 534

for i, name in enumerate(facet_titles):
    r, c = divmod(i, 2)
    left = col_x[c] / W
    top = row_top[r]
    # strip
    sax = fig.add_axes([left, 1 - (top + sh) / H, pw / W, sh / H])
    sax.set_facecolor(STRIP)
    sax.set_xticks([]); sax.set_yticks([])
    for s in sax.spines.values():
        s.set_visible(False)
    sax.text(0.5, 0.5, name, ha="center", va="center", color="white",
             fontsize=18.5, family=["Liberation Sans", "DejaVu Sans"], transform=sax.transAxes)
    # panel
    ax = fig.add_axes([left, 1 - (top + sh + ph) / H, pw / W, ph / H])
    pts = panel_data[name]
    xs = [p[0] for p in pts]
    ys = [p[1] for p in pts]
    ax.scatter(xs, ys, s=40, c="black", linewidths=0, zorder=2)
    ax.axhline(0, color="#FF0000", lw=2.0, zorder=3)
    xr = max(xs) - min(xs)
    yr = max(ys) - min(ys)
    ax.set_xlim(min(xs) - 0.05 * xr, max(xs) + 0.05 * xr)
    ax.set_ylim(min(ys) - 0.05 * yr, max(ys) + 0.05 * yr)
    ax.set_xticks([]); ax.set_yticks([])
    for s in ax.spines.values():
        s.set_color(BORDER)
        s.set_linewidth(1.3)

fig.savefig("out.png", dpi=100, facecolor="white")
